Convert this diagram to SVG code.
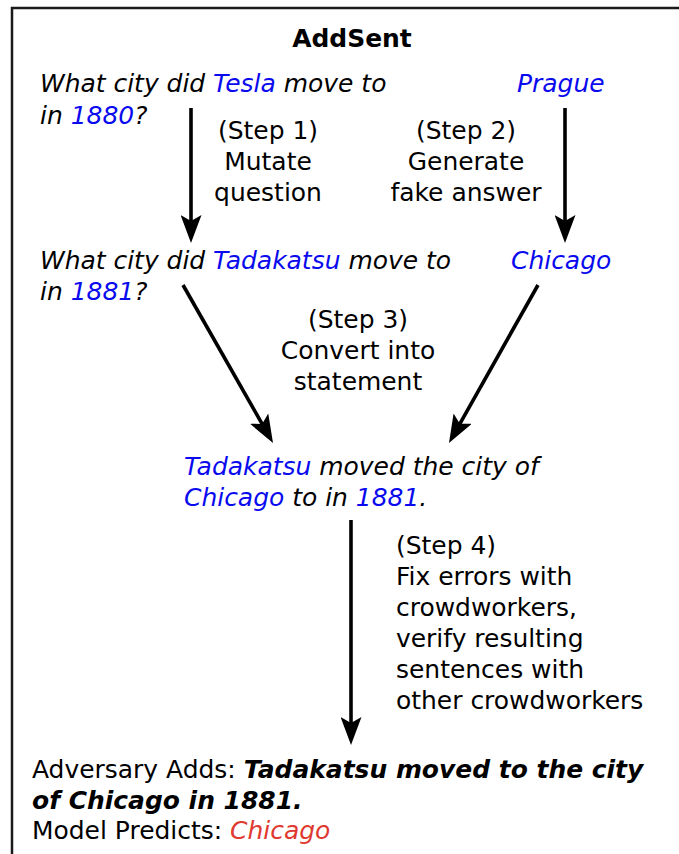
<svg xmlns="http://www.w3.org/2000/svg" width="679" height="854" viewBox="0 0 679 854">
<style>
text{font-family:"DejaVu Sans","Verdana",sans-serif;font-size:24px;fill:#000}
.i{font-style:italic}
.b{font-weight:bold}
.blue{fill:#0a0aee}
.red{fill:#e0392f}
.mid{text-anchor:middle}
.arr{stroke:#000;stroke-width:3.6;fill:none;marker-end:url(#ah)}
</style>
<defs>
<marker id="ah" markerUnits="userSpaceOnUse" viewBox="0 0 28 21" markerWidth="28" markerHeight="21" refX="18" refY="10.5" orient="auto">
<path d="M28,10.5 L0,0 L6,10.5 L0,21 Z" fill="#000"/>
</marker>
</defs>
<rect x="0" y="0" width="679" height="854" fill="#fff"/>
<rect id="frame" x="12" y="8" width="720" height="900" fill="none" stroke="#1a1a1a" stroke-width="2.5"/>
<g id="title"><text class="b mid" transform="translate(352,47) scale(1.04,1)">AddSent</text></g>
<g id="q1">
<text class="i" transform="translate(40,92) scale(1.04,1)">What city did <tspan class="blue">Tesla</tspan> move to</text>
<text class="i" transform="translate(40,124) scale(1.04,1)">in <tspan class="blue">1880</tspan>?</text>
</g>
<g id="prague"><text class="i blue" transform="translate(517,92) scale(1.04,1)">Prague</text></g>
<g id="step1">
<text class="mid" transform="translate(268,139) scale(1.04,1)">(Step 1)</text>
<text class="mid" transform="translate(268,170) scale(1.04,1)">Mutate</text>
<text class="mid" transform="translate(268,201) scale(1.04,1)">question</text>
</g>
<g id="step2">
<text class="mid" transform="translate(466,139) scale(1.04,1)">(Step 2)</text>
<text class="mid" transform="translate(466,170) scale(1.04,1)">Generate</text>
<text class="mid" transform="translate(466,201) scale(1.04,1)">fake answer</text>
</g>
<g id="q2">
<text class="i" transform="translate(40,269) scale(1.04,1)">What city did <tspan class="blue">Tadakatsu</tspan> move to</text>
<text class="i" transform="translate(40,300) scale(1.04,1)">in <tspan class="blue">1881</tspan>?</text>
</g>
<g id="chicago"><text class="i blue" transform="translate(511,269) scale(1.04,1)">Chicago</text></g>
<g id="step3">
<text class="mid" transform="translate(358,328) scale(1.04,1)">(Step 3)</text>
<text class="mid" transform="translate(358,359) scale(1.04,1)">Convert into</text>
<text class="mid" transform="translate(358,390) scale(1.04,1)">statement</text>
</g>
<g id="statement">
<text class="i" transform="translate(184,475) scale(1.04,1)"><tspan class="blue">Tadakatsu</tspan> moved the city of</text>
<text class="i" transform="translate(184,506) scale(1.04,1)"><tspan class="blue">Chicago</tspan> to in <tspan class="blue">1881</tspan>.</text>
</g>
<g id="step4">
<text transform="translate(396,554) scale(1.04,1)">(Step 4)</text>
<text transform="translate(396,585) scale(1.04,1)">Fix errors with</text>
<text transform="translate(396,616) scale(1.04,1)">crowdworkers,</text>
<text transform="translate(396,647) scale(1.04,1)">verify resulting</text>
<text transform="translate(396,678) scale(1.04,1)">sentences with</text>
<text transform="translate(396,709) scale(1.04,1)">other crowdworkers</text>
</g>
<g id="result">
<text transform="translate(32,778) scale(1.04,1)">Adversary Adds: <tspan class="b i">Tadakatsu moved to the city</tspan></text>
<text class="b i" transform="translate(32,809) scale(1.04,1)">of Chicago in 1881.</text>
<text transform="translate(32,839) scale(1.04,1)">Model Predicts: <tspan class="i red">Chicago</tspan></text>
</g>
<g id="connectors">
<line class="arr" x1="191" y1="108" x2="191" y2="233"/>
<line class="arr" x1="565" y1="108" x2="565" y2="233"/>
<line class="arr" x1="183" y1="285" x2="268.05" y2="434.31"/>
<line class="arr" x1="538" y1="285" x2="453.9" y2="434.3"/>
<line class="arr" x1="351" y1="520" x2="351" y2="735"/>
</g>
</svg>
